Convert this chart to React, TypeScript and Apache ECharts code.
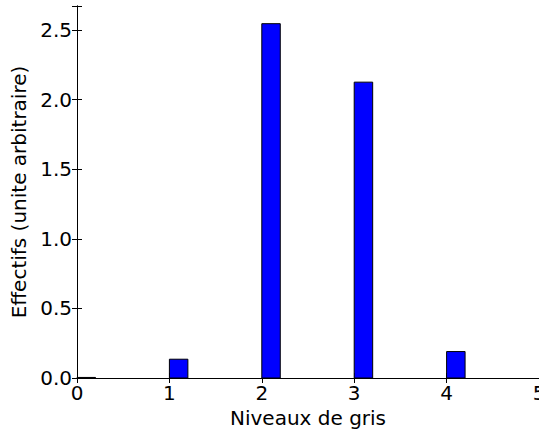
import React, { useEffect, useRef } from "react";
import * as echarts from "echarts";

const binStarts = [0, 1, 2, 3, 4];
const density = [0.004, 0.135, 2.545, 2.125, 0.19];
const binWidth = 0.2;
const xTicks = [0, 1, 2, 3, 4, 5];
const yTicks = [0.0, 0.5, 1.0, 1.5, 2.0, 2.5];
const xTitle = "Niveaux de gris";
const yTitle = "Effectifs (unite arbitraire)";

const FONT = "DejaVu Sans";

export default function App() {
  const ref = useRef<HTMLDivElement>(null);
  useEffect(() => {
    if (!ref.current) return;
    const chart = echarts.init(ref.current, null, { renderer: "svg" });
    const axisLine = { show: true, lineStyle: { color: "#000", width: 1 } };
    const tick = { show: true, inside: true, length: 5, lineStyle: { color: "#000" } };
    chart.setOption({
      animation: false,
      backgroundColor: "#fff",
      grid: { left: 77, top: 6, right: 0, bottom: 52, outerBoundsMode: "none", containLabel: false },
      xAxis: [
        {
          type: "value",
          min: xTicks[0],
          max: xTicks[xTicks.length - 1],
          interval: 1,
          position: "bottom",
          axisLine,
          axisTick: tick,
          splitLine: { show: false },
          axisLabel: { color: "#000", fontSize: 20, fontFamily: FONT, margin: 5 },
          name: xTitle,
          nameLocation: "middle",
          nameGap: 27,
          nameTextStyle: { color: "#000", fontSize: 20, fontFamily: FONT },
        },
        {
          type: "value",
          min: xTicks[0],
          max: xTicks[xTicks.length - 1],
          interval: 1,
          position: "top",
          axisLine,
          axisTick: tick,
          splitLine: { show: false },
          axisLabel: { show: false },
        },
      ],
      yAxis: [
        {
          type: "value",
          min: 0,
          max: 2.672,
          interval: 0.5,
          position: "left",
          axisLine,
          axisTick: tick,
          splitLine: { show: false },
          axisLabel: {
            color: "#000",
            fontSize: 20,
            fontFamily: FONT,
            margin: 5,
            formatter: (v: number) => (yTicks.some((t) => Math.abs(t - v) < 1e-9) ? v.toFixed(1) : ""),
          },
          name: yTitle,
          nameLocation: "middle",
          nameGap: 47,
          nameTextStyle: { color: "#000", fontSize: 20, fontFamily: FONT },
        },
        {
          type: "value",
          min: 0,
          max: 2.672,
          interval: 0.5,
          position: "right",
          axisLine,
          axisTick: tick,
          splitLine: { show: false },
          axisLabel: { show: false },
        },
      ],
      series: [
        {
          type: "custom",
          xAxisIndex: 0,
          yAxisIndex: 0,
          encode: { x: 0, y: 1 },
          data: binStarts.map((s, i) => [s, density[i]]),
          renderItem: (params: any, api: any) => {
            const x0 = api.value(0);
            const h = api.value(1);
            const p0 = api.coord([x0, h]);
            const p1 = api.coord([x0 + binWidth, 0]);
            return {
              type: "rect",
              shape: { x: p0[0], y: p0[1], width: p1[0] - p0[0], height: p1[1] - p0[1] },
              style: { fill: "#0000ff", stroke: "#000", lineWidth: 1 },
            };
          },
        },
      ],
    });
    return () => chart.dispose();
  }, []);
  return (
    <div
      ref={ref}
      style={{ position: "fixed", left: 0, top: 0, width: 539, height: 430 }}
    />
  );
}
